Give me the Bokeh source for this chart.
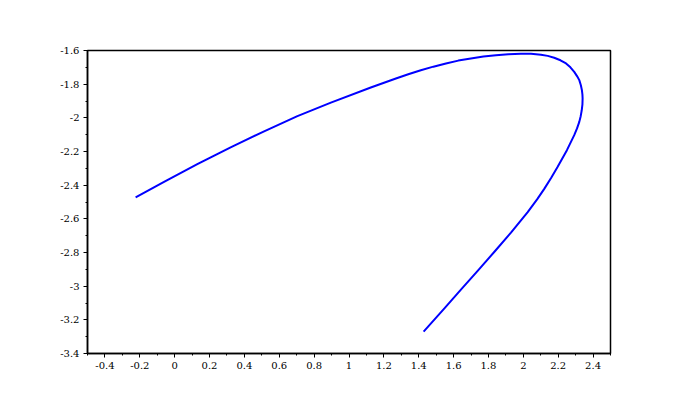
from bokeh.plotting import figure
from bokeh.models import FixedTicker, Range1d
from bokeh.embed import file_html
from bokeh.resources import INLINE

# curve points
curve_x = [-0.224, -0.061, 0.130, 0.321, 0.513, 0.704, 0.896, 1.125, 1.269, 1.340,
           1.412, 1.484, 1.556, 1.627, 1.699, 1.771, 1.843, 1.914, 1.986, 2.044,
           2.101, 2.140, 2.177, 2.213, 2.245, 2.270, 2.292, 2.308, 2.321, 2.330,
           2.336, 2.339, 2.340, 2.339, 2.335, 2.329, 2.321, 2.308, 2.292, 2.250,
           2.197, 2.160, 2.120, 2.080, 2.025, 1.929, 1.833, 1.738, 1.642, 1.546,
           1.428]
curve_y = [-2.472, -2.380, -2.275, -2.175, -2.080, -1.990, -1.910, -1.820, -1.766, -1.741,
           -1.717, -1.696, -1.677, -1.660, -1.647, -1.636, -1.628, -1.622, -1.620, -1.620,
           -1.625, -1.632, -1.643, -1.658, -1.677, -1.700, -1.727, -1.752, -1.776, -1.806,
           -1.836, -1.862, -1.885, -1.920, -1.955, -1.990, -2.024, -2.063, -2.103, -2.192,
           -2.291, -2.356, -2.422, -2.483, -2.560, -2.682, -2.797, -2.909, -3.021, -3.133,
           -3.270]

x_ticks = [-0.4, -0.2, 0.0, 0.2, 0.4, 0.6, 0.8, 1.0, 1.2, 1.4, 1.6, 1.8, 2.0, 2.2, 2.4]
x_tick_labels = ["-0.4", "-0.2", "0", "0.2", "0.4", "0.6", "0.8", "1", "1.2", "1.4",
                 "1.6", "1.8", "2", "2.2", "2.4"]
x_minor = [-0.5, -0.3, -0.1, 0.1, 0.3, 0.5, 0.7, 0.9, 1.1, 1.3, 1.5, 1.7, 1.9, 2.1, 2.3, 2.5]
y_ticks = [-3.4, -3.2, -3.0, -2.8, -2.6, -2.4, -2.2, -2.0, -1.8, -1.6]
y_tick_labels = ["-3.4", "-3.2", "-3", "-2.8", "-2.6", "-2.4", "-2.2", "-2", "-1.8", "-1.6"]
y_minor = [-3.3, -3.1, -2.9, -2.7, -2.5, -2.3, -2.1, -1.9, -1.7]

p = figure(output_backend="svg", toolbar_location=None,
           frame_width=523, frame_height=303,
           x_range=Range1d(-0.5, 2.5), y_range=Range1d(-3.4, -1.6),
           min_border_left=87, min_border_right=80, min_border_top=50, min_border_bottom=43)

p.line(curve_x, curve_y, line_color="#0000FF", line_width=2, line_join="round")

p.xgrid.visible = False
p.ygrid.visible = False
p.outline_line_color = "black"
p.outline_line_width = 1.5
p.outline_line_alpha = 1.0
p.background_fill_color = "white"
p.border_fill_color = "white"

p.xaxis.ticker = FixedTicker(ticks=x_ticks, minor_ticks=x_minor)
p.yaxis.ticker = FixedTicker(ticks=y_ticks, minor_ticks=y_minor)
p.xaxis.major_label_overrides = {t: l for t, l in zip(x_ticks, x_tick_labels)}
p.yaxis.major_label_overrides = {t: l for t, l in zip(y_ticks, y_tick_labels)}

for ax in (p.xaxis[0], p.yaxis[0]):
    ax.axis_line_color = "black"
    ax.axis_line_width = 1.5
    ax.major_tick_line_color = "black"
    ax.minor_tick_line_color = "black"
    ax.major_tick_in = 0
    ax.major_tick_out = 4
    ax.minor_tick_in = 0
    ax.minor_tick_out = 2
    ax.major_label_text_font = "DejaVu Serif"
    ax.major_label_text_font_size = "10px"
    ax.major_label_text_color = "black"
    ax.major_label_standoff = 4

open("out.html", "w").write(file_html(p, INLINE))
